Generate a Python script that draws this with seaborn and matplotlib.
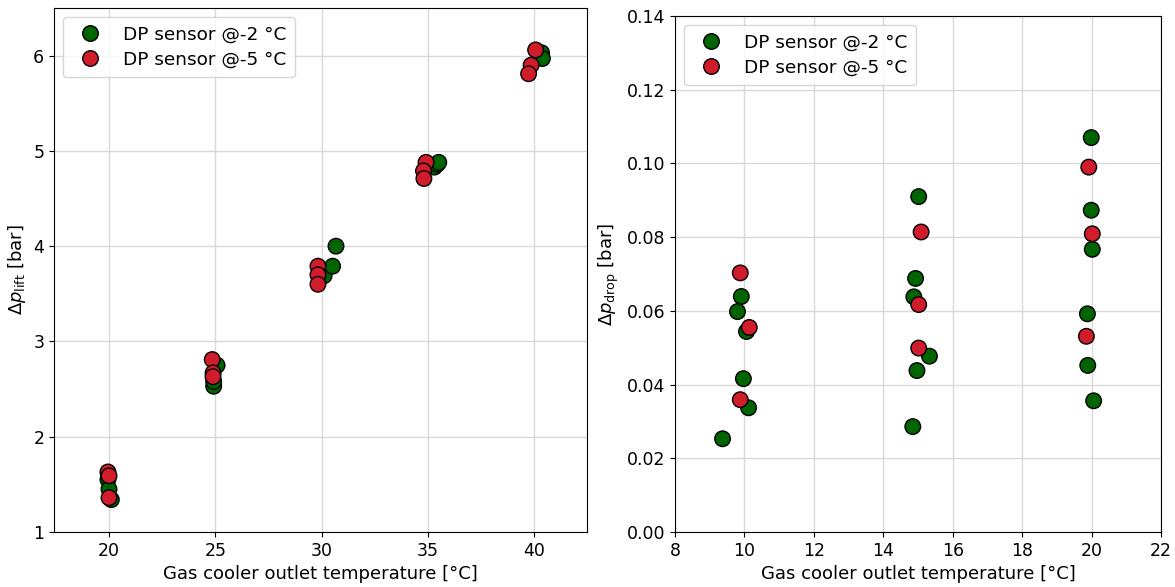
import matplotlib
matplotlib.use("Agg")
import matplotlib.pyplot as plt
import seaborn as sns
import pandas as pd

# ---- data ----
series_labels = ["DP sensor @-2 °C", "DP sensor @-5 °C"]
series_colors = ["#006400", "#d01c2b"]

lift_T_m2 = [19.94, 19.99, 20.10, 24.92, 24.92, 25.08, 30.12, 30.52, 30.68,
             35.31, 35.45, 35.52, 40.25, 40.36, 40.40]
lift_m2 = [1.55, 1.45, 1.34, 2.53, 2.58, 2.75, 3.69, 3.79, 4.00,
           4.83, 4.86, 4.88, 6.00, 6.03, 5.97]
lift_T_m5 = [19.94, 19.99, 19.99, 24.85, 24.89, 24.89, 29.83, 29.83, 29.83,
             34.92, 34.80, 34.82, 40.08, 39.87, 39.75]
lift_m5 = [1.63, 1.59, 1.36, 2.81, 2.67, 2.63, 3.79, 3.70, 3.60,
           4.88, 4.79, 4.71, 6.06, 5.90, 5.81]

drop_T_m2 = [9.91, 9.80, 10.06, 9.97, 10.12, 9.37, 15.02, 14.93, 14.88,
             15.33, 14.97, 14.85, 19.99, 19.99, 20.02, 19.88, 19.89, 20.06]
drop_m2 = [0.0639, 0.0598, 0.0544, 0.0416, 0.0337, 0.0253, 0.0910, 0.0688, 0.0638,
           0.0477, 0.0438, 0.0286, 0.1070, 0.0873, 0.0767, 0.0592, 0.0452, 0.0356]
drop_T_m5 = [9.88, 10.14, 9.88, 15.09, 15.02, 15.02, 19.92, 20.02, 19.85]
drop_m5 = [0.0703, 0.0555, 0.0359, 0.0814, 0.0617, 0.0499, 0.0990, 0.0809, 0.0531]

lift_yticks = [1, 2, 3, 4, 5, 6]
lift_xticks = [20, 25, 30, 35, 40]
drop_yticks = [0.00, 0.02, 0.04, 0.06, 0.08, 0.10, 0.12, 0.14]
drop_xticks = [8, 10, 12, 14, 16, 18, 20, 22]

xlabel = "Gas cooler outlet temperature [°C]"

def long_df(t2, v2, t5, v5):
    return pd.DataFrame({
        "T": list(t2) + list(t5),
        "v": list(v2) + list(v5),
        "series": [series_labels[0]] * len(t2) + [series_labels[1]] * len(t5),
    })

df_lift = long_df(lift_T_m2, lift_m2, lift_T_m5, lift_m5)
df_drop = long_df(drop_T_m2, drop_m2, drop_T_m5, drop_m5)

plt.rcParams["font.family"] = ["DejaVu Sans"]
fig = plt.figure(figsize=(11.75, 5.87), dpi=100)
ax1 = fig.add_axes([54 / 1175, 55 / 587, 533 / 1175, 524 / 587])
ax2 = fig.add_axes([675 / 1175, 55 / 587, 486 / 1175, 516 / 587])

palette = dict(zip(series_labels, series_colors))
for ax, df in [(ax1, df_lift), (ax2, df_drop)]:
    sns.scatterplot(data=df, x="T", y="v", hue="series", hue_order=series_labels,
                    palette=palette, s=125, edgecolor="black", linewidth=1.0,
                    ax=ax, zorder=3)
    ax.grid(True, color="#d9d9d9", linewidth=1.0, zorder=0)
    ax.set_axisbelow(True)
    ax.tick_params(labelsize=12.5)
    ax.set_xlabel(xlabel, fontsize=13)
    ax.legend(loc="upper left", fontsize=13.3, handletextpad=0.8,
              borderpad=0.45, labelspacing=0.4)

ax1.set_xlim(17.4, 42.5)
ax1.set_ylim(1, 6.5)
ax1.set_xticks(lift_xticks)
ax1.set_yticks(lift_yticks)
ax1.set_ylabel(r"$\Delta p_\mathrm{lift}$ [bar]", fontsize=13)

ax2.set_xlim(8, 22)
ax2.set_ylim(0, 0.14)
ax2.set_xticks(drop_xticks)
ax2.set_yticks(drop_yticks)
ax2.set_yticklabels([f"{v:.2f}" for v in drop_yticks])
ax2.set_ylabel(r"$\Delta p_\mathrm{drop}$ [bar]", fontsize=13)

fig.savefig("out.png", dpi=100)
